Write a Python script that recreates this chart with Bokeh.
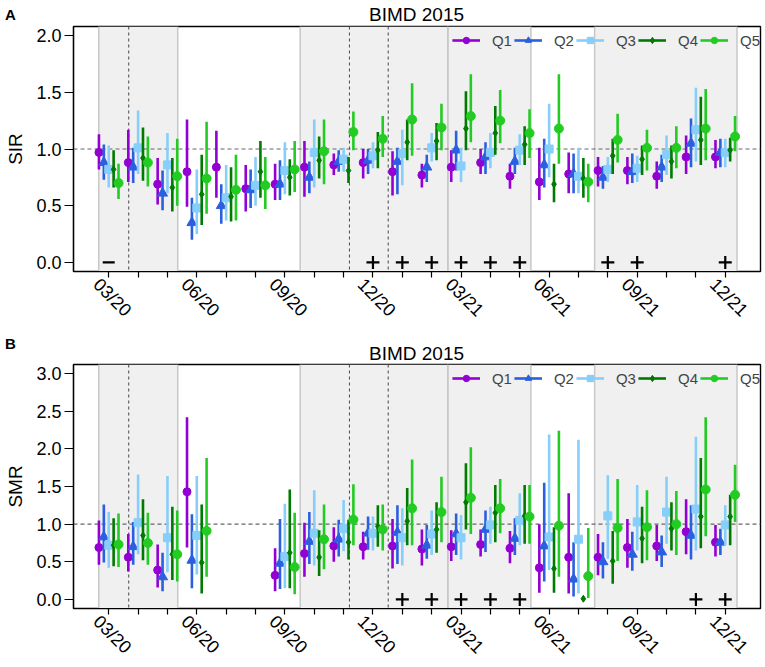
import numpy as np
from bokeh.plotting import figure
from bokeh.layouts import column
from bokeh.models import (Range1d, FixedTicker, PrintfTickFormatter, BoxAnnotation,
                          Span, Legend, LegendItem, ColumnDataSource, LinearAxis, Div)
from bokeh.embed import file_html
from bokeh.resources import INLINE

# ---------------- data ----------------
month_labels = ["03/20", "04/20", "05/20", "06/20", "07/20", "08/20", "09/20", "10/20",
                "11/20", "12/20", "01/21", "02/21", "03/21", "04/21", "05/21", "06/21",
                "07/21", "08/21", "09/21", "10/21", "11/21", "12/21"]
tick_label_months = ["03/20", "06/20", "09/20", "12/20", "03/21", "06/21", "09/21", "12/21"]
quintiles = ["Q1", "Q2", "Q3", "Q4", "Q5"]
panel_title = "BIMD 2015"

# shaded periods and dashed reference dates (month index units)
shade_periods = [(-0.34, 2.35), (6.52, 11.55), (11.55, 14.38), (16.55, 21.40)]
dashed_dates = [0.68, 8.20, 9.52]

# Panel A: SIR
sir_q1 = [0.97, 0.88, 0.69, 0.80, 0.84, 0.65, 0.69, 0.84, 0.86, 0.88, 0.80, 0.77, 0.84, 0.88, 0.76, 0.71, 0.78, 0.81, 0.81, 0.76, 0.93, 0.93]
sir_q1_lo = [0.82, 0.71, 0.51, 0.49, 0.57, 0.45, 0.55, 0.58, 0.77, 0.74, 0.59, 0.66, 0.71, 0.78, 0.65, 0.55, 0.61, 0.67, 0.69, 0.65, 0.78, 0.83]
sir_q1_hi = [1.13, 1.17, 0.92, 1.26, 1.16, 0.86, 0.87, 1.07, 0.96, 1.00, 0.98, 0.87, 0.99, 1.00, 0.87, 1.01, 0.97, 0.93, 0.93, 0.89, 1.12, 1.08]

sir_q2 = [0.88, 0.84, 0.61, 0.35, 0.50, 0.64, 0.69, 0.75, 0.89, 0.90, 0.89, 0.84, 0.99, 0.93, 0.89, 0.86, 0.78, 0.75, 0.80, 0.84, 1.05, 0.97]
sir_q2_lo = [0.73, 0.70, 0.46, 0.20, 0.34, 0.48, 0.55, 0.61, 0.80, 0.78, 0.60, 0.71, 0.81, 0.78, 0.78, 0.66, 0.61, 0.65, 0.70, 0.71, 0.84, 0.84]
sir_q2_hi = [1.04, 1.01, 0.81, 0.57, 0.69, 0.82, 0.90, 0.89, 0.99, 1.00, 1.01, 0.95, 1.16, 1.06, 1.01, 1.09, 0.96, 0.85, 0.96, 0.95, 1.27, 1.09]

sir_q3 = [0.82, 1.01, 0.86, 0.48, 0.57, 0.68, 0.81, 0.97, 0.91, 0.94, 0.96, 1.01, 0.85, 0.97, 0.99, 1.00, 0.76, 0.82, 0.83, 0.95, 1.17, 0.97]
sir_q3_lo = [0.66, 0.78, 0.61, 0.25, 0.37, 0.50, 0.60, 0.66, 0.80, 0.83, 0.68, 0.89, 0.71, 0.83, 0.86, 0.75, 0.61, 0.71, 0.71, 0.77, 0.89, 0.84]
sir_q3_hi = [1.03, 1.34, 1.14, 0.82, 0.86, 0.93, 1.06, 1.26, 1.01, 1.06, 1.17, 1.14, 1.01, 1.14, 1.13, 1.40, 1.01, 0.93, 0.94, 1.12, 1.54, 1.09]

sir_q4 = [0.82, 0.92, 0.66, 0.60, 0.58, 0.80, 0.75, 0.90, 0.81, 0.99, 1.06, 1.07, 1.18, 1.14, 1.04, 0.69, 0.74, 0.94, 0.91, 0.89, 1.08, 0.99]
sir_q4_lo = [0.66, 0.72, 0.45, 0.33, 0.36, 0.57, 0.59, 0.74, 0.70, 0.83, 0.90, 0.90, 0.99, 0.95, 0.86, 0.53, 0.57, 0.78, 0.77, 0.74, 0.86, 0.89]
sir_q4_hi = [0.99, 1.19, 0.92, 0.95, 0.84, 1.07, 0.91, 1.11, 0.93, 1.15, 1.26, 1.23, 1.51, 1.38, 1.20, 0.87, 0.92, 1.09, 1.03, 1.03, 1.46, 1.10]

sir_q5 = [0.70, 0.88, 0.76, 0.74, 0.64, 0.68, 0.82, 0.98, 1.15, 1.09, 1.26, 1.19, 1.29, 1.25, 1.14, 1.18, 0.71, 1.08, 1.01, 1.01, 1.18, 1.11]
sir_q5_lo = [0.56, 0.67, 0.50, 0.43, 0.37, 0.47, 0.62, 0.69, 0.99, 0.93, 0.94, 0.99, 1.06, 1.05, 0.92, 0.87, 0.53, 0.88, 0.81, 0.83, 0.90, 0.98]
sir_q5_hi = [0.87, 1.11, 1.09, 1.24, 0.95, 0.93, 1.07, 1.26, 1.33, 1.29, 1.58, 1.40, 1.66, 1.52, 1.35, 1.66, 0.87, 1.31, 1.17, 1.20, 1.53, 1.29]

sir_signs = ["-", "", "", "", "", "", "", "", "", "+", "+", "+", "+", "+", "+", "", "", "+", "+", "", "", "+"]

# Panel B: SMR (no estimates for 07/20 and 08/20)
smr_q1 = [0.69, 0.56, 0.39, 1.43, None, None, 0.32, 0.61, 0.71, 0.70, 0.71, 0.67, 0.70, 0.73, 0.68, 0.42, 0.56, 0.56, 0.69, 0.71, 0.90, 0.76]
smr_q1_lo = [0.46, 0.37, 0.16, 0.69, None, None, 0.11, 0.30, 0.50, 0.53, 0.41, 0.45, 0.51, 0.57, 0.48, 0.09, 0.08, 0.32, 0.42, 0.51, 0.60, 0.57]
smr_q1_hi = [1.05, 0.87, 0.73, 2.42, None, None, 0.68, 1.02, 0.96, 0.90, 1.07, 0.93, 0.92, 0.93, 0.91, 1.00, 1.41, 0.87, 1.07, 0.99, 1.33, 0.99]

smr_q2 = [0.83, 0.70, 0.30, 0.52, None, None, 0.48, 0.77, 0.80, 0.88, 0.89, 0.72, 0.87, 0.93, 0.81, 0.71, 0.27, 0.50, 0.60, 0.63, 0.85, 0.76]
smr_q2_lo = [0.49, 0.46, 0.11, 0.15, None, None, 0.14, 0.47, 0.57, 0.66, 0.47, 0.54, 0.59, 0.63, 0.59, 0.24, 0.04, 0.28, 0.38, 0.43, 0.53, 0.59]
smr_q2_hi = [1.26, 1.03, 0.62, 1.13, None, None, 1.07, 1.16, 1.06, 1.10, 1.25, 0.99, 1.14, 1.18, 1.08, 1.55, 0.76, 0.76, 0.90, 0.85, 1.25, 0.94]

smr_q3 = [0.72, 1.02, 0.82, 0.85, None, None, 0.57, 0.88, 0.94, 0.88, 0.82, 0.87, 0.82, 0.99, 1.05, 0.83, 0.80, 1.11, 1.03, 1.16, 1.20, 0.99]
smr_q3_lo = [0.42, 0.60, 0.36, 0.33, None, None, 0.15, 0.45, 0.64, 0.65, 0.45, 0.59, 0.53, 0.74, 0.72, 0.39, 0.08, 0.54, 0.65, 0.74, 0.65, 0.72]
smr_q3_hi = [1.16, 1.66, 1.64, 1.64, None, None, 1.27, 1.45, 1.32, 1.10, 1.21, 1.18, 1.12, 1.23, 1.41, 2.19, 2.12, 1.65, 1.52, 1.63, 2.16, 1.25]

smr_q4 = [0.72, 0.85, 0.60, 0.49, None, None, 0.62, 0.56, 0.76, 0.97, 1.04, 0.93, 1.29, 1.15, 1.11, 0.41, 0.01, 0.51, 0.81, 0.94, 1.10, 1.10]
smr_q4_lo = [0.44, 0.52, 0.26, 0.08, None, None, 0.15, 0.31, 0.53, 0.70, 0.72, 0.62, 0.93, 0.76, 0.74, 0.09, 0.00, 0.21, 0.48, 0.65, 0.68, 0.72]
smr_q4_hi = [1.08, 1.33, 1.23, 1.26, None, None, 1.46, 0.92, 1.06, 1.25, 1.48, 1.29, 1.81, 1.52, 1.52, 0.96, 0.02, 0.91, 1.23, 1.29, 1.88, 1.39]

smr_q5 = [0.73, 0.75, 0.60, 0.91, None, None, 0.43, 0.80, 1.06, 0.93, 1.21, 1.16, 1.35, 1.21, 1.10, 0.98, 0.31, 0.95, 0.96, 1.00, 1.46, 1.39]
smr_q5_lo = [0.43, 0.46, 0.24, 0.30, None, None, 0.07, 0.40, 0.72, 0.65, 0.72, 0.76, 0.87, 0.88, 0.74, 0.30, 0.02, 0.51, 0.52, 0.59, 0.84, 1.03]
smr_q5_hi = [1.14, 1.15, 1.18, 1.88, None, None, 1.15, 1.26, 1.53, 1.26, 1.86, 1.63, 2.02, 1.60, 1.52, 2.24, 0.95, 1.60, 1.45, 1.44, 2.42, 1.79]

smr_signs = ["", "", "", "", "", "", "", "", "", "", "+", "+", "+", "+", "+", "", "", "", "", "", "+", "+"]

# ---------------- styling ----------------
colors = ["#9400D3", "#2B5FE0", "#87CEFA", "#007A00", "#22CC22"]
markers = ["circle", "triangle", "square", "diamond", "circle"]
msizes = [8, 10, 8, 7, 9]
FONT = "Liberation Sans"
LABEL_SHIFT = -0.42   # rotated month labels are centred under their tick


def header(letter, height, letter_top, title_top):
    html = (
        f'<div style="position:relative;width:765px;height:{height}px;margin:0;padding:0;">'
        f'<span style="position:absolute;left:5px;top:{letter_top}px;line-height:1;'
        f'font-family:\'{FONT}\';font-size:15px;font-weight:bold;color:#000;">{letter}</span>'
        f'<span style="position:absolute;left:73px;width:687px;top:{title_top}px;line-height:1;'
        f'text-align:center;font-family:\'{FONT}\';font-size:19px;color:#000;">{panel_title}</span>'
        '</div>'
    )
    return Div(text=html, width=765, height=height, margin=0)


def make_panel(ylabel, ytop, yticks, est, lo, hi, signs, height, border_bottom):
    n = len(month_labels)
    idx = np.arange(n)
    p = figure(width=765, height=height, output_backend="svg", toolbar_location=None,
               x_range=Range1d(-1.2, 22.2), y_range=Range1d(-0.04 * ytop, 1.04 * ytop),
               min_border_left=73, min_border_right=5, min_border_top=1,
               min_border_bottom=border_bottom)
    p.xgrid.visible = False
    p.ygrid.visible = False
    p.outline_line_color = "black"
    p.outline_line_width = 1.4
    p.outline_line_alpha = 1
    p.background_fill_color = "white"
    p.border_fill_color = "white"

    # shaded periods
    for (a, b) in shade_periods:
        p.add_layout(BoxAnnotation(left=a, right=b, fill_color="#F0F0F0", fill_alpha=1,
                                   line_color=None, level="underlay"))
    for (a, b) in shade_periods:
        for v in (a, b):
            p.add_layout(Span(location=v, dimension="height", line_color="#C8C8C8",
                              line_width=1.5, level="underlay"))
    for v in dashed_dates:
        p.add_layout(Span(location=v, dimension="height", line_color="#555555",
                          line_width=1.1, line_dash="3 3", level="underlay"))
    p.add_layout(Span(location=1.0, dimension="width", line_color="#666666",
                      line_width=1.2, line_dash="4 3", level="underlay"))

    offsets = np.linspace(-1 / 3, 1 / 3, 5)
    items = []
    for k in range(5):
        e = np.array(est[k], dtype=float)
        l = np.array(lo[k], dtype=float)
        h = np.array(hi[k], dtype=float)
        mask = ~np.isnan(e)
        x = idx[mask] + offsets[k]
        src = ColumnDataSource(dict(x=x, y=e[mask], lo=l[mask], hi=h[mask]))
        seg = p.segment(x0="x", y0="lo", x1="x", y1="hi", source=src,
                        line_color=colors[k], line_width=2.6)
        sc = p.scatter(x="x", y="y", source=src, marker=markers[k], size=msizes[k],
                       fill_color=colors[k], line_color=colors[k])
        items.append(LegendItem(label=quintiles[k], renderers=[seg, sc]))

    # significance markers
    plus_x = [i for i, s in enumerate(signs) if s == "+"]
    minus_x = [i for i, s in enumerate(signs) if s == "-"]
    if plus_x:
        p.scatter(x=plus_x, y=[0.0] * len(plus_x), marker="cross", size=13,
                  line_color="black", line_width=2.2)
    if minus_x:
        p.scatter(x=minus_x, y=[0.0] * len(minus_x), marker="dash", size=12,
                  line_color="black", line_width=2.2)

    legend = Legend(items=items, location="top_right", orientation="horizontal",
                    border_line_color=None, background_fill_alpha=0,
                    margin=0, padding=3, spacing=2, glyph_width=28, glyph_height=16,
                    label_height=28, label_standoff=12,
                    label_text_font=FONT, label_text_font_size="15px")
    p.add_layout(legend)

    # x axis: one tick per month
    xa = p.xaxis[0]
    xa.ticker = FixedTicker(ticks=list(range(n)))
    xa.major_label_overrides = {i: "" for i in range(n)}
    xa.major_label_text_font_size = "0px"
    xa.major_label_standoff = 0
    xa.axis_line_color = "black"
    xa.axis_line_width = 1.2
    xa.major_tick_line_color = "black"
    xa.major_tick_line_width = 1.2
    xa.major_tick_in = 0
    xa.major_tick_out = 6
    xa.minor_tick_line_color = None

    # x axis labels (every third month), rotated
    lab_pos = [round(month_labels.index(m) + LABEL_SHIFT, 2) for m in tick_label_months]
    xl = LinearAxis(ticker=FixedTicker(ticks=lab_pos),
                    major_label_overrides={pos: m for pos, m in zip(lab_pos, tick_label_months)},
                    major_label_orientation=-np.pi / 4,
                    axis_line_color=None, major_tick_line_color=None,
                    minor_tick_line_color=None, major_tick_in=0, major_tick_out=0,
                    major_label_standoff=4, major_label_text_font=FONT,
                    major_label_text_font_size="18px", major_label_text_color="black")
    p.add_layout(xl, "below")

    # y axis
    ya = p.yaxis[0]
    ya.ticker = FixedTicker(ticks=yticks)
    ya.formatter = PrintfTickFormatter(format="%.1f")
    ya.axis_line_color = "black"
    ya.axis_line_width = 1.2
    ya.major_tick_line_color = "black"
    ya.major_tick_line_width = 1.2
    ya.major_tick_in = 0
    ya.major_tick_out = 9
    ya.minor_tick_line_color = None
    ya.major_label_text_font = FONT
    ya.major_label_text_font_size = "18px"
    ya.major_label_text_color = "black"
    ya.major_label_standoff = 3
    ya.axis_label = ylabel
    ya.axis_label_text_font = FONT
    ya.axis_label_text_font_size = "19px"
    ya.axis_label_text_font_style = "normal"
    ya.axis_label_text_color = "black"
    ya.axis_label_standoff = 7
    return p


hA = header("A", 25, 7, 5)
pA = make_panel("SIR", 2.0, [0.0, 0.5, 1.0, 1.5, 2.0],
                [sir_q1, sir_q2, sir_q3, sir_q4, sir_q5],
                [sir_q1_lo, sir_q2_lo, sir_q3_lo, sir_q4_lo, sir_q5_lo],
                [sir_q1_hi, sir_q2_hi, sir_q3_hi, sir_q4_hi, sir_q5_hi],
                sir_signs, 305, 59)
hB = header("B", 33, 6, 14)
pB = make_panel("SMR", 3.0, [0.0, 0.5, 1.0, 1.5, 2.0, 2.5, 3.0],
                [smr_q1, smr_q2, smr_q3, smr_q4, smr_q5],
                [smr_q1_lo, smr_q2_lo, smr_q3_lo, smr_q4_lo, smr_q5_lo],
                [smr_q1_hi, smr_q2_hi, smr_q3_hi, smr_q4_hi, smr_q5_hi],
                smr_signs, 304, 58)

layout = column(hA, pA, hB, pB, spacing=0)
open("out.html", "w").write(file_html(layout, INLINE))
